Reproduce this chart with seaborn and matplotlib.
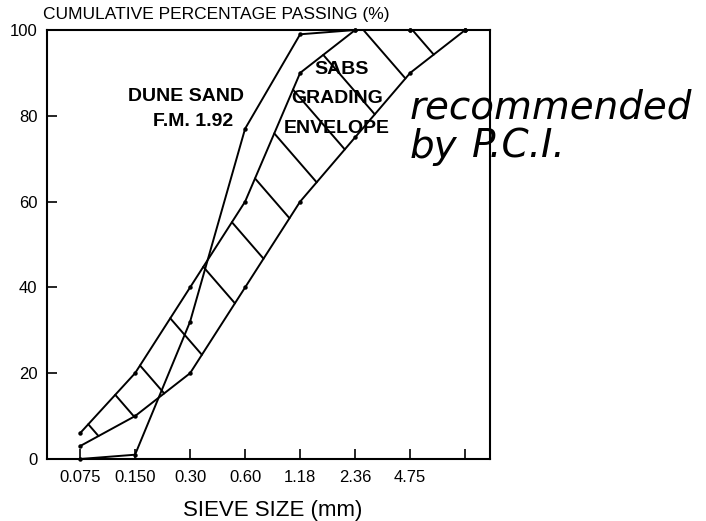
import numpy as np
import pandas as pd
import matplotlib
matplotlib.use("Agg")
import matplotlib.pyplot as plt
import seaborn as sns

# ---- data ----
sieve_sizes = ["0.075", "0.150", "0.30", "0.60", "1.18", "2.36", "4.75", "9.50"]
tick_labels = ["0.075", "0.150", "0.30", "0.60", "1.18", "2.36", "4.75", ""]
sabs_upper = [6, 20, 40, 60, 90, 100, 100, 100]
sabs_lower = [3, 10, 20, 40, 60, 75, 90, 100]
dune_sand = [0, 1, 32, 77, 99, 100, 100, 100]
# positions (in sieve-index units) along the upper envelope where hatch strokes start
hatch_at = [0.15, 0.64, 1.09, 1.64, 2.24, 2.76, 3.18, 3.53, 3.87, 4.42, 5.15, 6.04]

sns.set_theme(style="ticks")
plt.rcParams["font.family"] = ["Liberation Sans", "DejaVu Sans"]

pos = np.arange(len(sieve_sizes))
df = pd.concat([
    pd.DataFrame({"pos": pos, "pct": sabs_upper, "series": "upper"}),
    pd.DataFrame({"pos": pos, "pct": sabs_lower, "series": "lower"}),
    pd.DataFrame({"pos": pos, "pct": dune_sand, "series": "dune"}),
])

fig = plt.figure(figsize=(7.06, 5.21), dpi=100)
ax = fig.add_axes([47 / 706, 1 - 459 / 521, 443 / 706, 429 / 521])

for name in ["upper", "lower", "dune"]:
    sns.lineplot(data=df[df.series == name], x="pos", y="pct", ax=ax,
                 color="black", linewidth=1.4, marker="o", markersize=3.2,
                 markeredgewidth=0, sort=False, clip_on=False, legend=False)

# hatch strokes between the two envelope curves (down-right direction)
k = 14.8  # % per sieve-index step of the stroke direction
s = np.linspace(0, 2, 4001)
for t0 in hatch_at:
    y0 = np.interp(t0, pos, sabs_upper)
    yl = np.interp(t0 + s, pos, sabs_lower)
    yline = y0 - k * s
    idx = np.argmax(yline <= yl)
    ax.plot([t0, t0 + s[idx]], [y0, yline[idx]], color="black", linewidth=1.4)

ax.set_xlim(-0.6, 7.45)
ax.set_ylim(0, 100)
ax.set_xticks(pos)
ax.set_xticklabels(tick_labels)
ax.set_yticks([0, 20, 40, 60, 80, 100])
ax.tick_params(axis="both", direction="in", length=7, width=1.2, color="black",
               labelsize=12, labelcolor="black")
ax.tick_params(axis="x", pad=8)
ax.tick_params(axis="y", pad=7)
for sp in ax.spines.values():
    sp.set_visible(True)
    sp.set_color("black")
    sp.set_linewidth(1.5)

ax.set_xlabel("SIEVE SIZE (mm)", fontsize=16, color="black")
ax.xaxis.set_label_coords(0.51, -0.121)
ax.xaxis.label.set_va("center")
ax.set_ylabel("CUMULATIVE PERCENTAGE PASSING (%)", fontsize=12.5, rotation=0,
              color="black", ha="left", va="center")
ax.yaxis.set_label_coords(-0.009, 1.035)

bold = dict(fontsize=14, fontweight="bold", color="black", ha="center", va="center")
ax.text(1.92, 84.5, "DUNE SAND", **bold)
ax.text(2.06, 78.6, "F.M. 1.92", **bold)
ax.text(4.75, 90.8, "SABS", **bold)
ax.text(4.68, 84.1, "GRADING", **bold)
ax.text(4.66, 77.1, "ENVELOPE", **bold)

hand = dict(fontsize=28, style="italic", color="black", family=["DejaVu Sans"],
            ha="left", va="baseline")
fig.text(410 / 706, 1 - 118 / 521, "recommended", **hand)
fig.text(410 / 706, 1 - 158 / 521, "by", **hand)
fig.text(472 / 706, 1 - 158 / 521, "P.C.I.", **hand)

fig.savefig("out.png", dpi=100)
